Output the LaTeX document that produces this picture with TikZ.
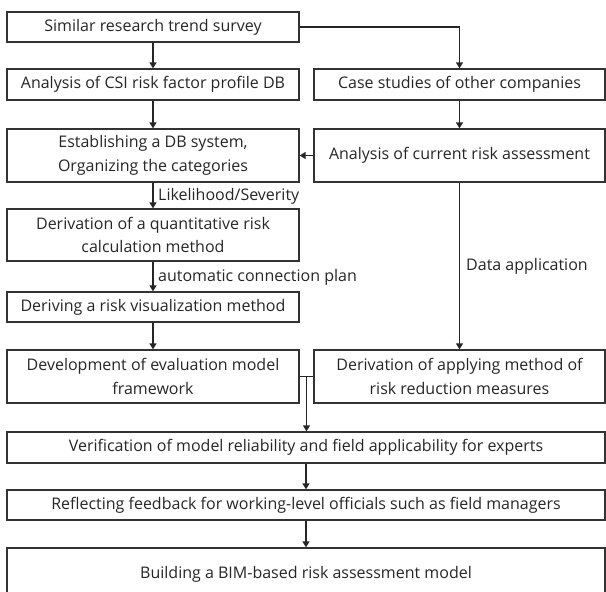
\documentclass[tikz,border=0pt]{standalone}
\usepackage{fontspec}
\setmainfont{Open Sans}
\usetikzlibrary{arrows.meta,calc}
\begin{document}
\begin{tikzpicture}[x=1pt,y=-1pt,
  every node/.style={text=black!85, font=\fontsize{16}{23.5}\selectfont},
  box/.style={draw=black!80, line width=1.3pt, inner sep=0pt, align=center, minimum height=30pt},
  halfbox/.style={box, minimum width=292pt},
  halfboxr/.style={box, minimum width=291pt},
  fullbox/.style={box, minimum width=598pt},
  tall/.style={minimum height=53pt},
  arr/.style={draw=black!85, line width=1.3pt, -{Triangle[width=7pt,length=6pt]}},
  link/.style={draw=black!85, line width=1.3pt},
  lbl/.style={anchor=west, inner sep=0pt}]
\useasboundingbox (0,0) rectangle (606,592);

% left column
\node[halfbox] (b1) at (153,27) {Similar research trend survey};
\node[halfbox, minimum height=31pt] (b2) at (153,84.5) {Analysis of CSI risk factor profile DB};
\node[halfbox, tall] (b4) at (153,155.5) {Establishing a DB system,\\Organizing the categories};
\node[halfbox, minimum height=52pt] (b6) at (153,235) {Derivation of a quantitative risk\\calculation method};
\node[halfbox] (b7) at (153,307) {Deriving a risk visualization method};
\node[halfbox, tall] (b8) at (153,376.5) {Development of evaluation model\\framework};

% right column
\node[halfboxr, minimum height=31pt] (b3) at (459.5,84.5) {Case studies of other companies};
\node[halfboxr, tall] (b5) at (459.5,155.5) {Analysis of current risk assessment};
\node[halfboxr, tall] (b9) at (459.5,376.5) {Derivation of applying method of\\risk reduction measures};

% full-width steps
\node[fullbox, minimum height=31pt] (b10) at (306,447.5) {Verification of model reliability and field applicability for experts};
\node[fullbox] (b11) at (306,505) {Reflecting feedback for working-level officials such as field managers};
\node[fullbox, minimum height=56pt] (b12) at (306,576) {};
\node (b12t) at (306,574) {Building a BIM-based risk assessment model};

% connectors
\draw[arr] (b1) -- (b2);
\draw[arr] (b1.east) -| (b3.north);
\draw[arr] (b2) -- (b4);
\draw[arr] (b3) -- (b5);
\draw[arr] (b5) -- (b4);
\draw[arr] (b4) -- (b6);
\node[lbl] (l1) at (158,196) {Likelihood/Severity};
\draw[arr] (b6) -- (b7);
\node[lbl] (l2) at (158,277) {automatic connection plan};
\draw[arr] (b7) -- (b8);
\draw[arr] (b5) -- (b9);
\node[lbl] (l3) at (466,266) {Data application};
\draw[link] (b8) -- (b9);
\coordinate (j) at ($(b8.east)!0.5!(b9.west)$);
\draw[arr] (j) -- (j |- b10.north);
\draw[arr] (b10) -- (b11);
\draw[arr] (b11) -- (b12);
\end{tikzpicture}
\end{document}
